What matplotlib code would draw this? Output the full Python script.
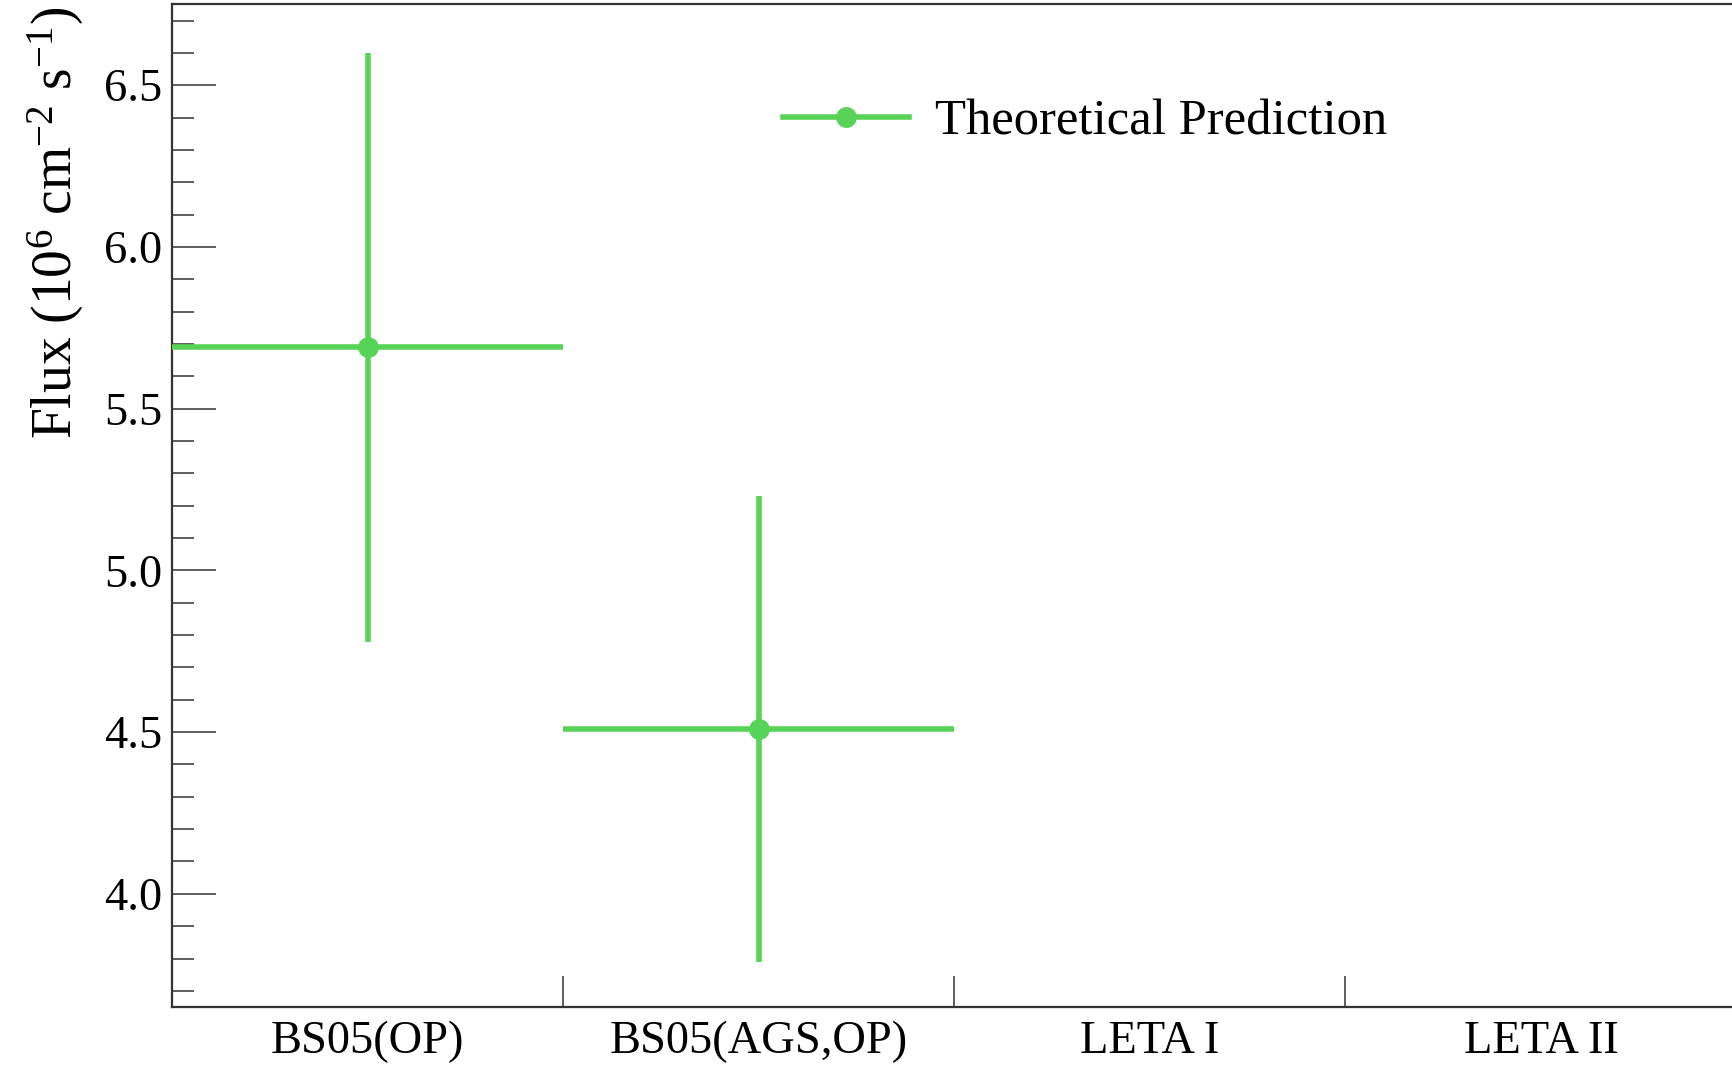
import matplotlib
matplotlib.use("Agg")
import matplotlib.pyplot as plt
from matplotlib.lines import Line2D
from matplotlib.ticker import MultipleLocator

# categories on the x axis (one bin each)
models = ['BS05(OP)', 'BS05(AGS,OP)', 'LETA I', 'LETA II']
# theoretical predictions, only the two SSM entries have a value
pred_flux = [5.69, 4.51]
pred_err = [0.91, 0.72]

green = '#57d357'
dark = '#333333'

plt.rcParams['font.family'] = ['Liberation Serif', 'DejaVu Serif']
plt.rcParams['mathtext.fontset'] = 'custom'
plt.rcParams['mathtext.rm'] = 'Liberation Serif'
plt.rcParams['mathtext.it'] = 'Liberation Serif:italic'

fig = plt.figure(figsize=(17.33, 10.66), dpi=100)
ax = fig.add_axes([0.0993, 0.0553, 0.9027, 0.9406])

xc = [i + 0.5 for i in range(len(pred_flux))]
ax.errorbar(xc, pred_flux, yerr=pred_err, xerr=0.5, fmt='o', color=green,
            ms=14, lw=4, capsize=0, zorder=3)

ax.set_xlim(0, len(models))
ax.set_ylim(3.65, 6.75)

# bin edges get the tick marks, centres get the labels
ax.set_xticks([1, 2, 3])
ax.set_xticklabels([])
ax.set_xticks([i + 0.5 for i in range(len(models))], models, minor=True)
ax.tick_params(axis='x', which='major', direction='in', length=22, width=1.1, color=dark)
ax.tick_params(axis='x', which='minor', length=0, labelsize=33.5, pad=10)

ax.yaxis.set_major_locator(MultipleLocator(0.5))
ax.yaxis.set_minor_locator(MultipleLocator(0.1))
ax.yaxis.set_major_formatter(matplotlib.ticker.FormatStrFormatter('%.1f'))
ax.tick_params(axis='y', which='major', direction='in', length=32, width=1.1,
               color=dark, labelsize=33.5, pad=7)
ax.tick_params(axis='y', which='minor', direction='in', length=16, width=1.1, color=dark)

for s in ['left', 'bottom', 'top']:
    ax.spines[s].set_linewidth(1.6)
    ax.spines[s].set_color(dark)
ax.spines['right'].set_visible(False)

fig.text(0.0322, 0.791, r'Flux (10$^{6}$ cm$^{-2}$ s$^{-1}$)', rotation=90,
         ha='center', va='center', fontsize=40)

proxy = Line2D([], [], color=green, lw=4, marker='o', ms=14)
fig.legend([proxy], ['Theoretical Prediction'], loc='center left',
           bbox_to_anchor=(0.437, 0.885), frameon=False, fontsize=36.5,
           handlelength=2.5, handletextpad=0.5, borderpad=0)

fig.savefig('out.png', dpi=100)
